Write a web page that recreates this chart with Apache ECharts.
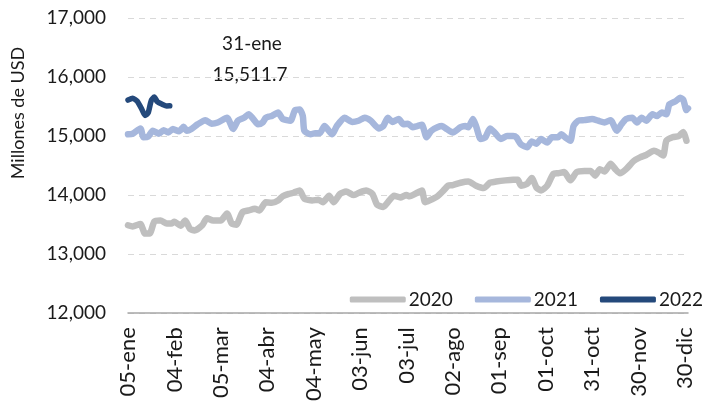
<!DOCTYPE html>
<html>
<head>
<meta charset="utf-8">
<script src="https://cdn.jsdelivr.net/npm/echarts@6/dist/echarts.min.js"></script>
<style>html,body{margin:0;padding:0;background:#fff}#c{width:711px;height:404px}</style>
</head>
<body>
<div id="c"></div>
<script>
// x tick labels (every 30 days starting 05-ene)
const tickLabels = ['05-ene','04-feb','05-mar','04-abr','04-may','03-jun','03-jul','02-ago','01-sep','01-oct','31-oct','30-nov','30-dic'];
const seriesNames = ['2020','2021','2022'];
const yTicks = [12000,13000,14000,15000,16000,17000];
const yAxisName = 'Millones de USD';
const noteDate = '31-ene';
const noteValue = '15,511.7';

// days since 05-ene and values
const days2020 = [0,3,8,11,14,17,21,25,28,30,34,37,40,43,48,51,55,60,64,67,70,74,78,82,85,89,93,97,100,104,107,111,114,119,123,126,130,133,137,141,146,150,154,158,161,165,168,172,176,180,182,187,190,192,195,200,204,207,210,215,220,225,230,234,238,244,249,252,254,258,261,264,267,271,275,278,282,286,290,295,299,302,305,308,312,315,318,322,327,331,335,340,343,346,348,352,356,359,361];
const vals2020 = [13490,13470,13510,13350,13350,13550,13570,13520,13520,13550,13480,13570,13430,13400,13490,13610,13570,13570,13690,13520,13500,13710,13740,13770,13740,13880,13870,13910,13980,14020,14040,14080,13940,13910,13920,13880,13990,13880,14020,14060,14000,14050,14080,14020,13840,13800,13880,13990,13960,14000,13980,14040,14080,13880,13910,13980,14080,14160,14170,14210,14230,14160,14120,14210,14230,14250,14260,14260,14160,14190,14290,14130,14080,14160,14360,14370,14390,14250,14390,14410,14410,14330,14440,14400,14530,14440,14370,14440,14580,14640,14680,14750,14720,14670,14920,14980,15000,15070,14920];

const days2021 = [0,3,8,10,13,16,20,23,26,29,33,36,38,41,45,50,54,58,64,68,71,75,78,81,84,87,89,91,93,97,100,105,108,111,113,114,118,121,124,127,132,135,140,145,149,153,157,162,165,168,171,175,178,181,184,187,190,193,196,200,203,206,210,215,218,220,223,225,228,231,234,237,241,245,249,251,254,258,261,264,267,271,274,278,280,283,286,288,291,295,300,304,308,312,316,319,322,326,329,332,335,339,342,345,348,350,354,357,359,361,362];
const vals2021 = [15030,15040,15130,14980,14990,15090,15040,15100,15060,15120,15080,15160,15090,15120,15200,15270,15210,15230,15310,15120,15260,15310,15370,15290,15200,15230,15310,15330,15340,15400,15290,15260,15440,15450,15340,15090,15030,15050,15050,15170,15030,15170,15310,15240,15260,15310,15260,15130,15170,15310,15240,15290,15200,15210,15150,15170,15190,14980,15090,15150,15170,15120,15060,15150,15170,15150,15290,15170,14950,14980,15130,15060,14950,15000,15000,14980,14860,14810,14910,14870,14950,14890,14980,14980,15030,14970,14920,15170,15260,15270,15290,15260,15230,15270,15090,15200,15290,15310,15230,15310,15260,15370,15340,15400,15370,15540,15590,15650,15610,15440,15470];

const days2022 = [0,3,6,9,11,13,15,17,19,22,25,27];
const vals2022 = [15610,15640,15590,15450,15350,15390,15600,15660,15580,15540,15510,15511.7];

const colors = ['#bfbfbf','#a6b7dc','#24497b'];
const FONT = 'Lato, "Open Sans", sans-serif';

function pairs(d, v){ return d.map((x,i)=>[x, v[i]]); }

const chart = echarts.init(document.getElementById('c'), null, {renderer:'canvas'});
const mk = (i, d, v, w) => ({
  name: seriesNames[i], type:'line', data: pairs(d,v), showSymbol:false, symbol:'none',
  smooth: 0.2, z: 2+i,
  lineStyle:{color:colors[i], width:w, cap:'round', join:'round'},
  itemStyle:{color:colors[i]}
});
chart.setOption({
  animation:false,
  grid:{left:128, right:23, top:18, bottom:89, containLabel:false},
  xAxis:{
    type:'value', min:0, max:362, interval:30,
    axisLine:{show:true, lineStyle:{color:'#a6a6a6', width:1.5}},
    axisTick:{show:false}, splitLine:{show:false},
    axisLabel:{rotate:90, margin:14, color:'#1a1a1a', fontFamily:FONT, fontSize:22,
      showMaxLabel:false,
      formatter:(v)=> (v%30===0 && tickLabels[v/30]) ? tickLabels[v/30] : ''}
  },
  yAxis:{
    type:'value', min:yTicks[0], max:yTicks[yTicks.length-1], interval:1000,
    axisLine:{show:false}, axisTick:{show:false},
    splitLine:{show:true, lineStyle:{color:'#d9d9d9', type:[6,5], width:1}},
    axisLabel:{margin:22, color:'#1a1a1a', fontFamily:FONT, fontSize:19,
      formatter:(v)=> v.toLocaleString('en-US')}
  },
  legend:{
    right:3, top:285, itemWidth:56, itemHeight:6, itemGap:22, icon:'roundRect',
    textStyle:{fontFamily:FONT, fontSize:19, color:'#1a1a1a', padding:[0,0,0,-2]},
    data: seriesNames
  },
  graphic:[
    {type:'text', x:18, y:113, rotation:Math.PI/2,
      style:{text:yAxisName, fill:'#1a1a1a', font:'18px '+FONT, align:'center', verticalAlign:'middle'}},
    {type:'text', x:252, y:44,
      style:{text:noteDate, fill:'#1a1a1a', font:'19px '+FONT, align:'center', verticalAlign:'middle'}},
    {type:'text', x:250, y:75,
      style:{text:noteValue, fill:'#1a1a1a', font:'19px '+FONT, align:'center', verticalAlign:'middle'}}
  ],
  series:[ mk(0,days2020,vals2020,6.5), mk(1,days2021,vals2021,6.5), mk(2,days2022,vals2022,5.5) ]
});
</script>
</body>
</html>
